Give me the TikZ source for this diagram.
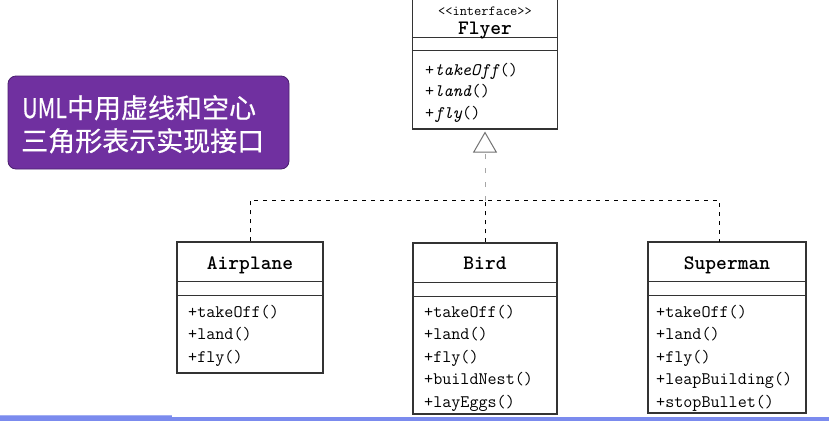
\documentclass[tikz,border=0pt]{standalone}
\usepackage{fontspec}
\newfontfamily\cjk[FakeBold=0.6]{Noto Sans CJK SC}
\usetikzlibrary{arrows.meta}
\definecolor{umlline}{HTML}{333333}
\definecolor{notepurple}{HTML}{7030A0}
\definecolor{noteedge}{HTML}{4A1F6E}
\definecolor{barblue}{HTML}{7B8BEE}
\definecolor{barlight}{HTML}{A3AFF3}
\tikzset{
  umlbox/.style={draw=umlline, line width=1.1pt, fill=white, rectangle, inner sep=0pt},
  divider/.style={draw=umlline, line width=1.1pt},
  umlname/.style={font=\fontsize{20.5}{20.5}\selectfont\ttfamily\bfseries, inner sep=0pt, text height=0.62em, text depth=0.05em, anchor=center, yshift=-3.5pt},
  stereo/.style={font=\fontsize{14}{14}\selectfont\ttfamily, inner sep=0pt, text height=0.45em, text depth=0em, anchor=center, yshift=-3pt},
  method/.style={font=\fontsize{17.6}{17.6}\selectfont\ttfamily, inner sep=0pt, text height=0.7em, text depth=0.2em, anchor=west, yshift=-2.5pt},
  realize/.style={draw=black, line width=1pt, dash pattern=on 4pt off 5pt},
  realizegray/.style={draw=gray!70, line width=1pt, dash pattern=on 5pt off 9pt},
  notebox/.style={draw=noteedge, line width=0.8pt, fill=notepurple, rounded corners=8pt, inner sep=0pt},
  notetext/.style={font=\cjk\fontsize{27}{32}\selectfont, text=white, inner sep=0pt, anchor=base west},
}
\begin{document}
\begin{tikzpicture}[x=1pt, y=-1pt]
\useasboundingbox (0,0) rectangle (829,421);
\fill[white] (0,0) rectangle (829,421);

% bottom bar
\fill[barlight] (0,415) rectangle (172,421);
\fill[barblue] (0,416) rectangle (172,421);
\fill[barblue] (172,417) rectangle (829,421);

% note box
\node[notebox, minimum width=281pt, minimum height=93pt] (note) at (148.5,122.5) {};
\node[notetext] (noteA) at (22,118) {\scalebox{0.8}[1]{UML}中用虚线和空心};
\node[notetext] (noteB) at (21,151) {三角形表示实现接口};

% Flyer
\node[umlbox, minimum width=145pt, minimum height=131pt] (flyer) at (485,63.5) {};
\draw[divider] ([yshift=-40pt]flyer.north west) -- ([yshift=-40pt]flyer.north east);
\draw[divider] ([yshift=-53pt]flyer.north west) -- ([yshift=-53pt]flyer.north east);
\node[stereo] (flyerst) at (485,10) {<<interface>>};
\node[umlname] (flyername) at (485,28) {Flyer};
\node[method] (f1) at (425,70) {+\textit{takeOff}()};
\node[method] (f2) at (425,91) {+\textit{land}()};
\node[method] (f3) at (425,113) {+\textit{fly}()};

% Airplane
\node[umlbox, minimum width=146pt, minimum height=131pt] (airplane) at (250,307.5) {};
\draw[divider] ([yshift=-40pt]airplane.north west) -- ([yshift=-40pt]airplane.north east);
\draw[divider] ([yshift=-54pt]airplane.north west) -- ([yshift=-54pt]airplane.north east);
\node[umlname] (airname) at (250,263) {Airplane};
\node[method] (a1) at (188,312) {+takeOff()};
\node[method] (a2) at (188,334.5) {+land()};
\node[method] (a3) at (188,357) {+fly()};

% Bird
\node[umlbox, minimum width=144pt, minimum height=171pt] (bird) at (485,328.5) {};
\draw[divider] ([yshift=-40pt]bird.north west) -- ([yshift=-40pt]bird.north east);
\draw[divider] ([yshift=-54pt]bird.north west) -- ([yshift=-54pt]bird.north east);
\node[umlname] (birdname) at (485,263) {Bird};
\node[method] (b1) at (424,312) {+takeOff()};
\node[method] (b2) at (424,334.5) {+land()};
\node[method] (b3) at (424,357) {+fly()};
\node[method] (b4) at (424,379.5) {+buildNest()};
\node[method] (b5) at (424,402) {+layEggs()};

% Superman
\node[umlbox, minimum width=158pt, minimum height=171pt] (super) at (727,327.5) {};
\draw[divider] ([yshift=-40pt]super.north west) -- ([yshift=-40pt]super.north east);
\draw[divider] ([yshift=-54pt]super.north west) -- ([yshift=-54pt]super.north east);
\node[umlname] (supername) at (727,263) {Superman};
\node[method] (s1) at (656,312) {+takeOff()};
\node[method] (s2) at (656,334.5) {+land()};
\node[method] (s3) at (656,357) {+fly()};
\node[method] (s4) at (656,379.5) {+leapBuilding()};
\node[method] (s5) at (656,402) {+stopBullet()};

% connectors
\coordinate (hub) at (485,201);
\coordinate (superdrop) at (719,242);
\draw[realize] (airplane.north) -- ++(0,-41) -| (superdrop);
\draw[realize] (bird.north) -- (hub);
\draw[realizegray, shorten >=2pt, -{Triangle[open, width=24pt, length=21pt, line width=1pt, color=gray!90!black, fill=white]}] (hub) -- (flyer.south);
\end{tikzpicture}
\end{document}
